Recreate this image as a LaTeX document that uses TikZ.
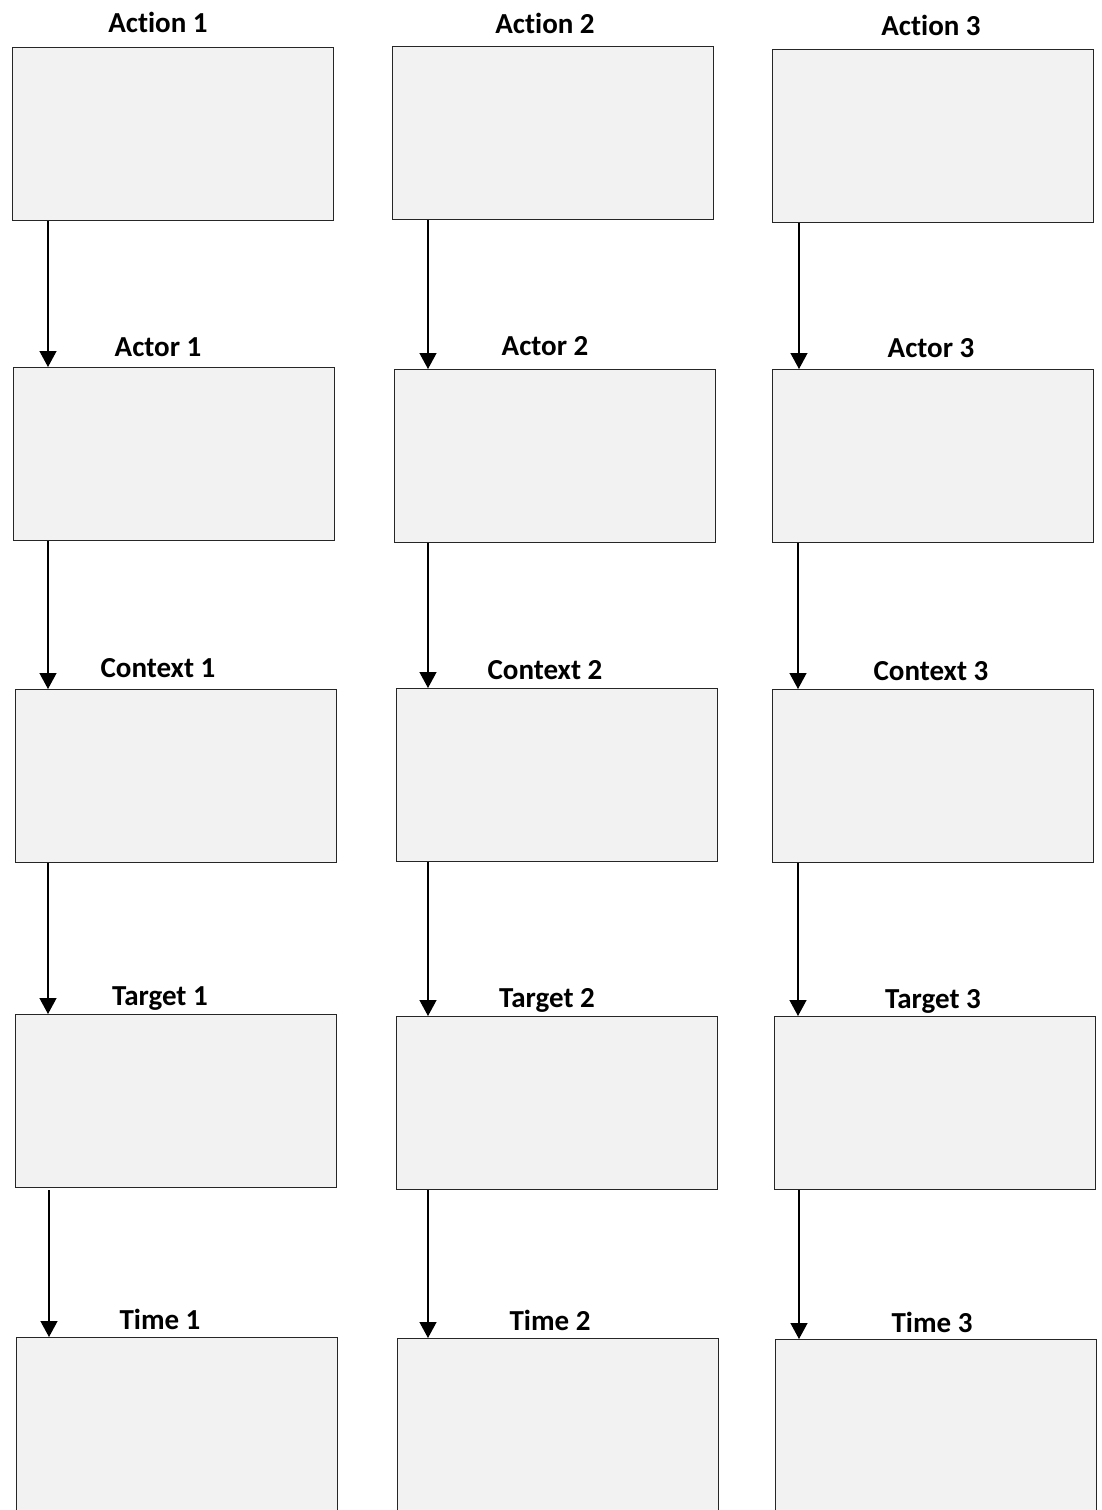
\documentclass[tikz,border=0pt]{standalone}
\usepackage{fontspec}
\setmainfont{Carlito}[Ligatures={NoCommon,NoContextual}]
\usetikzlibrary{arrows.meta}
\newcommand{\actword}{Act\kern0pt ion}
\begin{document}
\begin{tikzpicture}[x=1pt,y=-1pt,
  box/.style={draw=black!85,line width=1.4pt,fill={rgb,255:red,242;green,242;blue,242},
    rectangle,anchor=north west,minimum width=321pt,minimum height=173pt,inner sep=0pt},
  lbl/.style={anchor=base,font=\fontsize{29}{34}\selectfont\bfseries,inner sep=0pt},
  arr/.style={line width=1.3pt,-{Triangle[width=17pt,length=16pt]}}]
\clip (0,0) rectangle (1101,1510);
\fill[white] (0,0) rectangle (1101,1510);
% column 1
\node[box] (a1) at (12,47) {};
\node[box] (b1) at (13,367) {};
\node[box] (c1) at (15,689) {};
\node[box] (d1) at (15,1014) {};
\node[box,minimum height=200pt] (e1) at (16,1337) {};
% column 2
\node[box] (a2) at (392,46) {};
\node[box] (b2) at (394,369) {};
\node[box] (c2) at (396,688) {};
\node[box] (d2) at (396,1016) {};
\node[box,minimum height=200pt] (e2) at (397,1338) {};
% column 3
\node[box] (a3) at (772,49) {};
\node[box] (b3) at (772,369) {};
\node[box] (c3) at (772,689) {};
\node[box] (d3) at (774,1016) {};
\node[box,minimum height=200pt] (e3) at (775,1339) {};
% labels
\node[lbl] (la1) at (158,32) {\actword{} 1};
\node[lbl] (lb1) at (158,356) {Actor 1};
\node[lbl] (lc1) at (158,677) {Context 1};
\node[lbl] (ld1) at (160,1005) {Target 1};
\node[lbl] (le1) at (160,1329) {Time 1};
\node[lbl] (la2) at (545,33) {\actword{} 2};
\node[lbl] (lb2) at (545,355) {Actor 2};
\node[lbl] (lc2) at (545,679) {Context 2};
\node[lbl] (ld2) at (547,1007) {Target 2};
\node[lbl] (le2) at (550,1330) {Time 2};
\node[lbl] (la3) at (931,35) {\actword{} 3};
\node[lbl] (lb3) at (931,357) {Actor 3};
\node[lbl] (lc3) at (931,680) {Context 3};
\node[lbl] (ld3) at (933,1008) {Target 3};
\node[lbl] (le3) at (932,1332) {Time 3};
% arrows column 1
\draw[arr] ([xshift=36pt]a1.south west) -- ([xshift=36pt]a1.south west |- b1.north);
\draw[arr] ([xshift=35pt]b1.south west) -- ([xshift=35pt]b1.south west |- c1.north);
\draw[arr] ([xshift=33pt]c1.south west) -- ([xshift=33pt]c1.south west |- d1.north);
\draw[arr] ([xshift=34pt,yshift=-2pt]d1.south west) -- ([xshift=34pt]d1.south west |- e1.north);
% arrows column 2
\draw[arr] ([xshift=36pt]a2.south west) -- ([xshift=36pt]a2.south west |- b2.north);
\draw[arr] ([xshift=34pt]b2.south west) -- ([xshift=34pt]b2.south west |- c2.north);
\draw[arr] ([xshift=32pt]c2.south west) -- ([xshift=32pt]c2.south west |- d2.north);
\draw[arr] ([xshift=32pt]d2.south west) -- ([xshift=32pt]d2.south west |- e2.north);
% arrows column 3
\draw[arr] ([xshift=27pt]a3.south west) -- ([xshift=27pt]a3.south west |- b3.north);
\draw[arr] ([xshift=26pt]b3.south west) -- ([xshift=26pt]b3.south west |- c3.north);
\draw[arr] ([xshift=26pt]c3.south west) -- ([xshift=26pt]c3.south west |- d3.north);
\draw[arr] ([xshift=25pt]d3.south west) -- ([xshift=25pt]d3.south west |- e3.north);
\end{tikzpicture}
\end{document}
